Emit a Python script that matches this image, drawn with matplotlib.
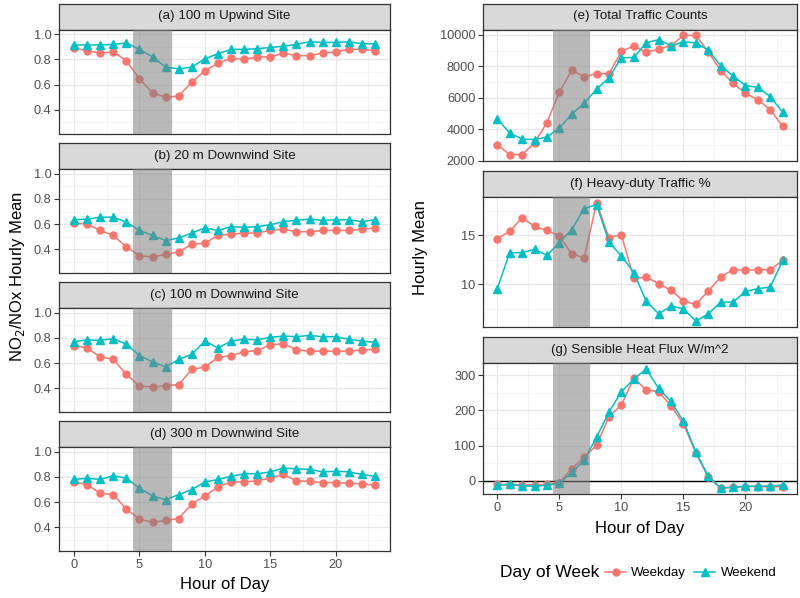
import matplotlib
matplotlib.use("Agg")
import matplotlib.pyplot as plt
from matplotlib.lines import Line2D
import numpy as np

plt.rcParams['font.family'] = ['Liberation Sans', 'DejaVu Sans']

hours = list(range(24))

# (a) 100 m Upwind Site
a_weekday = [0.89, 0.87, 0.85, 0.86, 0.79, 0.645, 0.535, 0.50, 0.51, 0.62, 0.71, 0.77,
             0.81, 0.80, 0.82, 0.82, 0.85, 0.83, 0.83, 0.85, 0.86, 0.88, 0.88, 0.87]
a_weekend = [0.915, 0.915, 0.915, 0.92, 0.93, 0.88, 0.82, 0.74, 0.725, 0.74, 0.805, 0.845,
             0.88, 0.88, 0.885, 0.895, 0.905, 0.92, 0.94, 0.935, 0.935, 0.94, 0.925, 0.925]
# (b) 20 m Downwind Site
b_weekday = [0.61, 0.60, 0.55, 0.51, 0.42, 0.35, 0.34, 0.36, 0.38, 0.44, 0.45, 0.51,
             0.52, 0.53, 0.53, 0.55, 0.56, 0.54, 0.54, 0.55, 0.55, 0.55, 0.56, 0.57]
b_weekend = [0.635, 0.64, 0.655, 0.655, 0.615, 0.55, 0.51, 0.47, 0.49, 0.53, 0.57, 0.55,
             0.58, 0.575, 0.58, 0.595, 0.62, 0.63, 0.64, 0.63, 0.635, 0.635, 0.62, 0.635]
# (c) 100 m Downwind Site
c_weekday = [0.74, 0.72, 0.65, 0.63, 0.51, 0.42, 0.41, 0.42, 0.43, 0.55, 0.57, 0.645,
             0.66, 0.69, 0.70, 0.745, 0.755, 0.705, 0.695, 0.695, 0.695, 0.695, 0.705, 0.71]
c_weekend = [0.77, 0.785, 0.78, 0.795, 0.75, 0.66, 0.61, 0.57, 0.63, 0.67, 0.775, 0.72,
             0.775, 0.79, 0.785, 0.805, 0.815, 0.81, 0.82, 0.81, 0.81, 0.79, 0.775, 0.765]
# (d) 300 m Downwind Site
d_weekday = [0.76, 0.74, 0.67, 0.66, 0.545, 0.465, 0.44, 0.455, 0.47, 0.585, 0.65, 0.72,
             0.76, 0.76, 0.77, 0.79, 0.82, 0.77, 0.765, 0.755, 0.755, 0.75, 0.745, 0.735]
d_weekend = [0.78, 0.79, 0.78, 0.81, 0.79, 0.71, 0.65, 0.62, 0.66, 0.70, 0.76, 0.78,
             0.805, 0.825, 0.825, 0.84, 0.87, 0.865, 0.86, 0.84, 0.845, 0.84, 0.82, 0.805]
# (e) Total Traffic Counts
e_weekday = [3010, 2380, 2380, 3110, 4420, 6350, 7740, 7340, 7530, 7530, 8940, 9300,
             8880, 9090, 9320, 9960, 9960, 8920, 7720, 6920, 6280, 5860, 5230, 4170]
e_weekend = [4660, 3750, 3370, 3330, 3500, 4070, 4950, 5650, 6540, 7280, 8540, 8560,
             9490, 9700, 9300, 9560, 9490, 9030, 8040, 7380, 6770, 6660, 6070, 5060]
# (f) Heavy-duty Traffic %
f_weekday = [14.66, 15.4, 16.8, 15.9, 15.5, 14.93, 13.1, 12.7, 18.3, 14.76, 15.07, 10.6,
             10.75, 10.07, 9.4, 8.3, 7.96, 9.32, 10.75, 11.5, 11.43, 11.5, 11.5, 12.45]
f_weekend = [9.56, 13.23, 13.23, 13.57, 12.96, 14.25, 15.58, 17.72, 18.13, 14.3, 12.9, 11.2,
             8.3, 7.0, 7.8, 7.5, 6.26, 7.0, 8.2, 8.2, 9.28, 9.56, 9.73, 12.45]
# (g) Sensible Heat Flux W/m^2
g_weekday = [-10, -12, -11, -11, -10, -5, 35, 67, 101, 182, 215, 291,
             258, 253, 213, 161, 80, 10, -20, -18, -16, -16, -17, -16]
g_weekend = [-12, -9, -14, -15, -12, -7, 24, 59, 124, 195, 253, 288,
             317, 262, 225, 169, 82, 14, -20, -18, -15, -15, -14, -12]

titles_left = ["(a) 100 m Upwind Site", "(b) 20 m Downwind Site",
               "(c) 100 m Downwind Site", "(d) 300 m Downwind Site"]
titles_right = ["(e) Total Traffic Counts", "(f) Heavy-duty Traffic %",
                "(g) Sensible Heat Flux W/m^2"]

C_WD = '#F8766D'
C_WE = '#00BFC4'
W, H = 800, 598

fig = plt.figure(figsize=(8, 5.98), dpi=100)


def add_px(x0, y0, x1, y1):
    return fig.add_axes([x0 / W, 1 - y1 / H, (x1 - x0) / W, (y1 - y0) / H])


def strip(x0, y0, x1, y1, text):
    s = add_px(x0, y0, x1, y1)
    s.set_facecolor('#d9d9d9')
    s.set_xticks([]); s.set_yticks([])
    for sp in s.spines.values():
        sp.set_color('#333333'); sp.set_linewidth(0.9)
    s.text(0.5, 0.5, text, ha='center', va='center', fontsize=9.6, color='#1a1a1a',
           transform=s.transAxes)


def panel(x0, y0, x1, y1, wd, we, ylim, yticks, yminor, xlabels, hline=False):
    ax = add_px(x0, y0, x1, y1)
    ax.set_xlim(-1.15, 24.15)
    ax.set_ylim(*ylim)
    ax.set_xticks([0, 5, 10, 15, 20])
    ax.set_xticks([2.5, 7.5, 12.5, 17.5, 22.5], minor=True)
    ax.set_yticks(yticks)
    ax.set_yticks(yminor, minor=True)
    ax.grid(True, which='major', color='#e8e8e8', lw=0.9, zorder=0)
    ax.grid(True, which='minor', color='#f2f2f2', lw=0.5, zorder=0)
    ax.set_axisbelow(True)
    ax.tick_params(which='minor', length=0)
    ax.tick_params(which='major', length=3.5, color='#333333', labelsize=9.2,
                   labelcolor='#4d4d4d', pad=2)
    if not xlabels:
        ax.tick_params(axis='x', which='major', labelbottom=False, length=0)
    for sp in ax.spines.values():
        sp.set_color('#333333'); sp.set_linewidth(0.9)
    if hline:
        ax.axhline(0, color='black', lw=1.0, zorder=1.5)
    ax.plot(hours, wd, color=C_WD, lw=1.1, marker='o', ms=5, zorder=2)
    ax.plot(hours, we, color=C_WE, lw=1.1, marker='^', ms=5.5, zorder=2)
    ax.axvspan(4.5, 7.5, color='#808080', alpha=0.55, lw=0, zorder=3)
    return ax


# left column
lx0, lx1 = 59, 390
left_data = [(a_weekday, a_weekend), (b_weekday, b_weekend),
             (c_weekday, c_weekend), (d_weekday, d_weekend)]
tops = [3.5, 143, 282, 421]
for i, (t, (wd, we)) in enumerate(zip(tops, left_data)):
    strip(lx0, t, lx1, t + 26, titles_left[i])
    panel(lx0, t + 26, lx1, t + 130, wd, we, (0.2125, 1.0375),
          [0.4, 0.6, 0.8, 1.0], [0.3, 0.5, 0.7, 0.9], xlabels=(i == 3))

# right column
rx0, rx1 = 483, 797
strip(rx0, 3.5, rx1, 29.5, titles_right[0])
panel(rx0, 29.5, rx1, 161, e_weekday, e_weekend, (1970, 10340),
      [2000, 4000, 6000, 8000, 10000], [3000, 5000, 7000, 9000], xlabels=False)
strip(rx0, 171, rx1, 197, titles_right[1])
panel(rx0, 197, rx1, 327, f_weekday, f_weekend, (5.66, 18.9),
      [10, 15], [7.5, 12.5, 17.5], xlabels=False)
strip(rx0, 337, rx1, 363, titles_right[2])
panel(rx0, 363, rx1, 494, g_weekday, g_weekend, (-37, 334),
      [0, 100, 200, 300], [50, 150, 250], xlabels=True, hline=True)

# axis titles
fig.text(lx0 / W + (lx1 - lx0) / W / 2, 1 - 585 / H, 'Hour of Day', ha='center',
         va='center', fontsize=12)
fig.text(rx0 / W + (rx1 - rx0) / W / 2, 1 - 528 / H, 'Hour of Day', ha='center',
         va='center', fontsize=12)
fig.text(18 / W, 1 - 277 / H, 'NO$_2$/NOx Hourly Mean', rotation=90, ha='center',
         va='center', fontsize=12)
fig.text(420 / W, 1 - 248 / H, 'Hourly Mean', rotation=90, ha='center',
         va='center', fontsize=12)

# legend
fig.text(500 / W, 1 - 573 / H, 'Day of Week', ha='left', va='center', fontsize=12.5)
handles = [Line2D([0], [0], color=C_WD, lw=1.1, marker='o', ms=5),
           Line2D([0], [0], color=C_WE, lw=1.1, marker='^', ms=5.5)]
fig.legend(handles, ['Weekday', 'Weekend'], ncol=2, loc='center left',
           bbox_to_anchor=(605 / W, 1 - 573 / H), frameon=False, fontsize=9.5,
           handlelength=1.6, handletextpad=0.4, columnspacing=0.6, borderpad=0,
           borderaxespad=0)

fig.savefig('out.png', dpi=100)
